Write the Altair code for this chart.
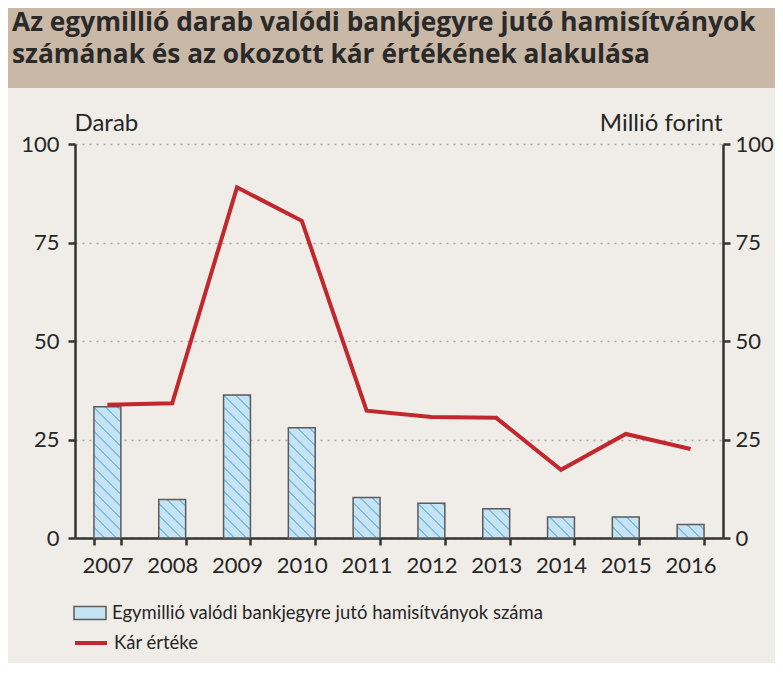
import math
import altair as alt

# ---------------- data ----------------
YEARS = ["2007", "2008", "2009", "2010", "2011", "2012", "2013", "2014", "2015", "2016"]
COUNTS = [33.3, 9.8, 36.3, 28.0, 10.3, 8.8, 7.4, 5.3, 5.3, 3.4]          # darab / 1 millió bankjegy
DAMAGE = [33.8, 34.2, 89.0, 80.5, 32.3, 30.7, 30.5, 17.3, 26.4, 22.6]    # millió forint
Y_TICKS = [0, 25, 50, 75, 100]
TITLE_LINES = [
    "Az egymillió darab valódi bankjegyre jutó hamisítványok",
    "számának és az okozott kár értékének alakulása",
]
BAR_LABEL = "Egymillió valódi bankjegyre jutó hamisítványok száma"
LINE_LABEL = "Kár értéke"
LEFT_TITLE = "Darab"
RIGHT_TITLE = "Millió forint"

# ---------------- style ----------------
W, H = 648, 394
PAD_L, PAD_T, PAD_R, PAD_B = 67, 136, 52, 125
FONT = "Lato"
TXT = "#262626"
AX = "#333333"
BAR_FILL = "#c5e3f3"
HATCH = "#7cbde2"
BAR_STROKE = "#5b5b5b"
RED = "#c1272d"
PAD_INNER = 0.585
BAR_W = W / len(YEARS) * (1 - PAD_INNER)


def hatch_gradient(value, period=12.0, thick=2.0):
    """Linear gradient that imitates '\\' hatching on a bar of the given value."""
    h = max(value * H / 100.0, 0.5)
    w = BAR_W
    t = (w + h) / (w * w + h * h)
    L = w + h
    n = L / period
    f = thick / period
    stops = []
    k = 0
    while k / n < 1:
        a = k / n
        b = min((k + 1 - f) / n, 1.0)
        c = min((k + 1) / n, 1.0)
        stops += [
            {"offset": a, "color": BAR_FILL},
            {"offset": b, "color": BAR_FILL},
            {"offset": b, "color": HATCH},
            {"offset": c, "color": HATCH},
        ]
        k += 1
    return {"gradient": "linear", "x1": 0, "y1": 1, "x2": t * w, "y2": 1 - t * h, "stops": stops}


bar_rows = [
    {"year": y, "count": c, "series": BAR_LABEL, "hatch": hatch_gradient(c)}
    for y, c in zip(YEARS, COUNTS)
]
line_rows = [{"year": y, "damage": d, "series2": LINE_LABEL} for y, d in zip(YEARS, DAMAGE)]

x_enc = alt.X(
    "year:O",
    scale=alt.Scale(paddingInner=PAD_INNER, paddingOuter=PAD_INNER / 2),
    axis=alt.Axis(
        title=None, labelAngle=0, tickBand="extent", tickSize=7, tickWidth=2.5,
        tickColor=AX, domainColor=AX, domainWidth=2.5, labelFont=FONT,
        labelFontSize=22, labelColor=TXT, labelPadding=10, grid=False,
    ),
)

common_axis = dict(
    values=Y_TICKS, titleAngle=0, titleBaseline="alphabetic", titleY=-14,
    titleFont=FONT, titleFontSize=24, titleFontWeight="normal", titleColor=TXT,
    labelFont=FONT, labelFontSize=22, labelColor=TXT, tickSize=7, tickWidth=2.5,
    tickColor=AX, domainColor=AX, domainWidth=2.5,
)

y_bar = alt.Y(
    "count:Q",
    scale=alt.Scale(domain=[0, 100], nice=False),
    axis=alt.Axis(
        title=LEFT_TITLE, orient="left", titleX=-1, titleAlign="left", labelPadding=9,
        grid=True, gridColor="#a8a8a8", gridDash=[2, 5], gridWidth=1.5, **common_axis
    ),
)

legend_common = dict(
    title=None, orient="none", legendX=-2, padding=0, symbolSize=1024,
    labelFont=FONT, labelFontSize=18.5, labelColor=TXT, labelOffset=5, labelLimit=0,
)

bars_legend = alt.Chart(alt.Data(values=bar_rows)).mark_bar().encode(
    x=x_enc,
    y=y_bar,
    fill=alt.Fill(
        "series:N",
        scale=alt.Scale(domain=[BAR_LABEL], range=[BAR_FILL]),
        legend=alt.Legend(
            legendY=452, symbolType="M-1,-0.4H1V0.4H-1Z",
            symbolStrokeColor=BAR_STROKE, symbolStrokeWidth=1.5, **legend_common
        ),
    ),
)

bars_hatch = alt.Chart(alt.Data(values=bar_rows)).mark_bar(
    stroke=BAR_STROKE, strokeWidth=1.5
).encode(
    x=x_enc,
    y=y_bar,
    fill=alt.Fill("hatch:N", scale=None, legend=None),
)

bars = alt.layer(bars_legend, bars_hatch)

line = alt.Chart(alt.Data(values=line_rows)).mark_line(
    strokeWidth=4, strokeJoin="miter"
).encode(
    x=alt.X("year:O"),
    y=alt.Y(
        "damage:Q",
        scale=alt.Scale(domain=[0, 100], nice=False),
        axis=alt.Axis(
            title=RIGHT_TITLE, orient="right", titleX=-1, titleAlign="right",
            labelPadding=5, grid=False, **common_axis
        ),
    ),
    stroke=alt.Stroke(
        "series2:N",
        scale=alt.Scale(domain=[LINE_LABEL], range=[RED]),
        legend=alt.Legend(
            legendY=481, symbolType="stroke", symbolStrokeWidth=4, **legend_common
        ),
    ),
)

header = alt.Chart(alt.Data(values=[{}])).mark_rect(color="#c9b8a6").encode(
    x=alt.value(-PAD_L), x2=alt.value(W + PAD_R),
    y=alt.value(-PAD_T), y2=alt.value(-56),
)

title = alt.Chart(alt.Data(values=[{}])).mark_text(
    align="left", baseline="alphabetic", font="Open Sans", fontWeight="bold",
    fontSize=26.3, lineHeight=32, color="#2a2a2a",
).encode(x=alt.value(-PAD_L + 4), y=alt.value(-113), text=alt.value(TITLE_LINES))

chart = (
    alt.layer(header, title, bars, line)
    .resolve_scale(y="independent", fill="independent", stroke="independent")
    .properties(
        width=W, height=H,
        autosize=alt.AutoSizeParams(type="none"),
        padding={"left": PAD_L, "top": PAD_T, "right": PAD_R, "bottom": PAD_B},
        background="#f0ede9",
    )
    .configure_view(stroke=None)
)

chart.save("out.html", embed_options={"renderer": "svg", "actions": False})
